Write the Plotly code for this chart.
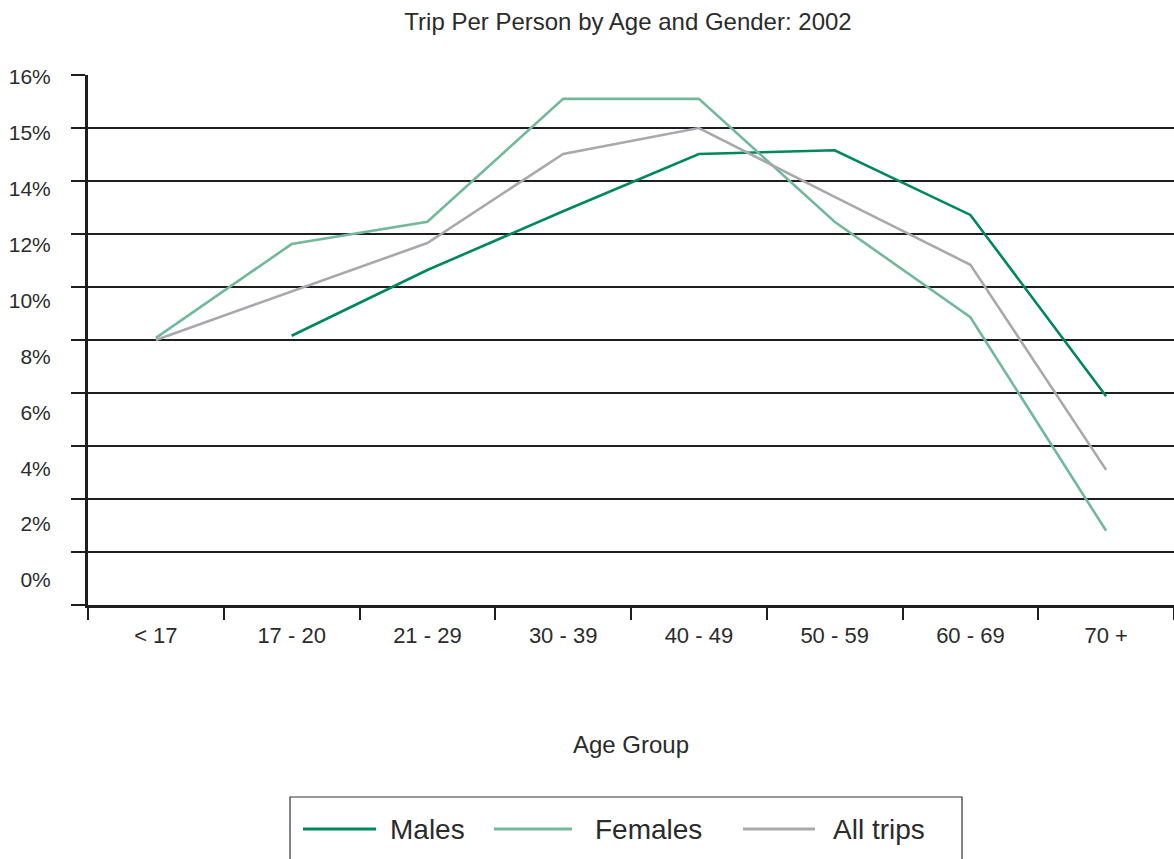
import plotly.graph_objects as go

# Age groups along the x axis
age_groups = ["< 17", "17 - 20", "21 - 29", "30 - 39", "40 - 49", "50 - 59", "60 - 69", "70 +"]

# Series values, in grid units (one unit per horizontal gridline)
males = [None, 5.08, 6.32, 7.43, 8.51, 8.58, 7.36, 3.94]
females = [5.04, 6.81, 7.23, 9.55, 9.55, 7.23, 5.43, 1.40]
all_trips = [5.00, 5.91, 6.83, 8.51, 9.00, 7.70, 6.42, 2.55]

series_names = ["Males", "Females", "All trips"]
series_colors = ["#00875a", "#72b99c", "#a9a9ad"]

# Labels printed beside the vertical axis
y_tick_labels = ["0%", "2%", "4%", "6%", "8%", "10%", "12%", "14%", "15%", "16%"]

W, H = 1174, 859
M_L, M_R, M_T, M_B = 88, 0, 75, 254
PLOT_W = W - M_L - M_R
PLOT_H = H - M_T - M_B
FONT = "Liberation Sans, Arial, Helvetica, sans-serif"
TEXT = "#2b2b2b"
GRID = "#1e1e1e"


def px_x(px):
    return (px - M_L) / PLOT_W


def px_y(py):
    return (H - M_B - py) / PLOT_H


fig = go.Figure()

for name, vals, color in zip(series_names, [males, females, all_trips], series_colors):
    fig.add_trace(go.Scatter(
        x=age_groups, y=vals, name=name, mode="lines",
        line=dict(color=color, width=2.6),
        connectgaps=False, showlegend=False,
    ))

# Placeholder trace so the label axis is drawn
fig.add_trace(go.Scatter(x=[age_groups[0]], y=[None], yaxis="y2",
                         mode="lines", showlegend=False, hoverinfo="skip"))

fig.update_layout(
    width=W, height=H,
    margin=dict(l=M_L, r=M_R, t=M_T, b=M_B),
    paper_bgcolor="white", plot_bgcolor="white",
    font=dict(family=FONT, color=TEXT),
    title=dict(text="Trip Per Person by Age and Gender: 2002",
               x=px_x(628), xref="paper", xanchor="center",
               y=1 - 22 / H, yref="container", yanchor="middle",
               font=dict(size=24, color=TEXT)),
    xaxis=dict(
        type="category", categoryorder="array", categoryarray=age_groups,
        range=[-0.5, len(age_groups) - 0.5],
        tickson="boundaries", ticks="outside", ticklen=12, tickwidth=2,
        tickcolor=GRID, showline=True, linecolor=GRID, linewidth=2.5,
        showgrid=False, zeroline=False,
        ticklabelstandoff=9,
        tickfont=dict(size=22, color=TEXT),
        title=dict(text="Age Group", standoff=90, font=dict(size=24, color=TEXT)),
    ),
    yaxis=dict(
        range=[0, 10], tickmode="linear", tick0=0, dtick=1,
        showticklabels=False, ticks="outside", ticklen=14, tickwidth=1.5,
        tickcolor=GRID, showgrid=True, gridcolor=GRID, gridwidth=1.5,
        showline=True, linecolor=GRID, linewidth=3, zeroline=False,
    ),
    yaxis2=dict(
        overlaying="y", side="left", anchor="x",
        range=[-0.447, 9.036],
        tickmode="array", tickvals=list(range(len(y_tick_labels))), ticktext=y_tick_labels,
        ticks="outside", ticklen=32, tickcolor="rgba(0,0,0,0)",
        showgrid=False, showline=False, zeroline=False,
        tickfont=dict(size=21, color=TEXT),
    ),
)

# Legend: framed box with long line samples
shapes = [dict(type="rect", xref="paper", yref="paper",
               x0=px_x(290), x1=px_x(962), y0=px_y(880), y1=px_y(797),
               line=dict(color="#333333", width=1.2), fillcolor="rgba(0,0,0,0)", layer="above")]
annotations = []
sample_spans = [(303, 376), (494, 572), (743, 815)]
text_starts = [388, 593, 831]
for name, color, (a, b), tx in zip(series_names, series_colors, sample_spans, text_starts):
    shapes.append(dict(type="line", xref="paper", yref="paper",
                       x0=px_x(a), x1=px_x(b), y0=px_y(829), y1=px_y(829),
                       line=dict(color=color, width=3)))
    annotations.append(dict(text=name, xref="paper", yref="paper",
                            x=px_x(tx), y=px_y(829), xanchor="left", yanchor="middle",
                            showarrow=False, font=dict(size=28, color=TEXT)))

fig.update_layout(shapes=shapes, annotations=annotations)

fig.write_html("out.html")
